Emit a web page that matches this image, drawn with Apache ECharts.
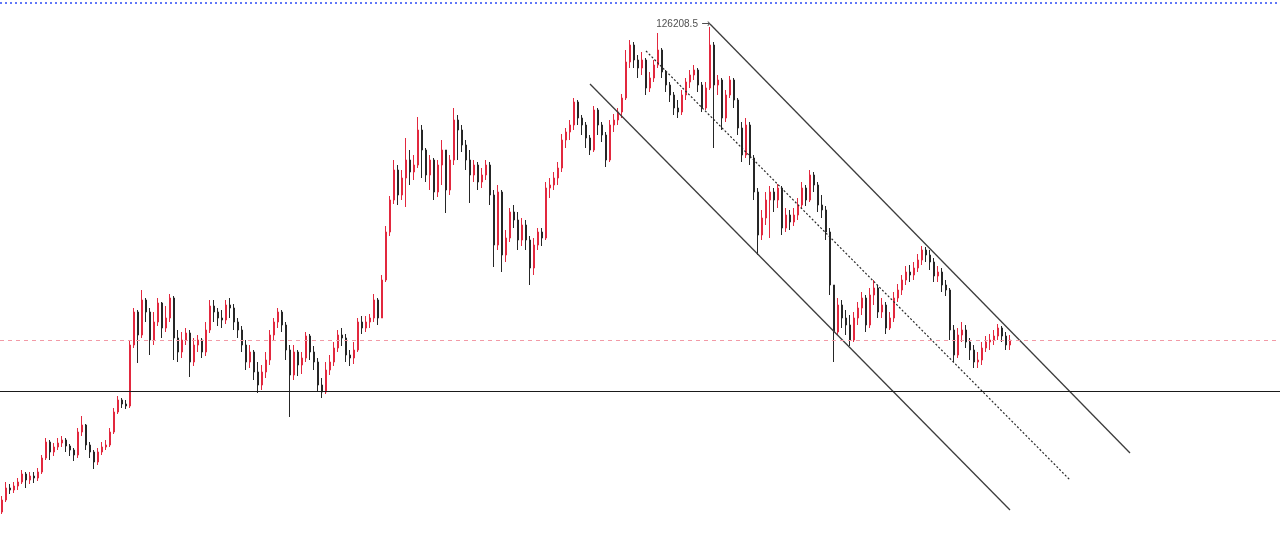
<!DOCTYPE html>
<html>
<head>
<meta charset="utf-8">
<script src="https://cdn.jsdelivr.net/npm/echarts@6/dist/echarts.min.js"></script>
<style>
html,body{margin:0;padding:0;background:#fff;}
#chart{width:1280px;height:542px;}
</style>
</head>
<body>
<div id="chart"></div>
<script>
// ---- data ----
const firstOpen = 29200;
const closes = [
31600,34000,33600,34400,35200,36800,35600,36400,36000,37200,
40000,43200,41200,42200,43000,43600,42400,41600,40600,45200,
46600,42600,41200,39200,41200,42200,42600,45200,49200,51600,
50800,50400,62600,69200,64600,71600,69200,63600,67200,71000,
66000,68000,72000,64000,61200,63600,65000,59200,62600,63600,
61200,65600,70400,69200,68000,67600,70600,70000,67200,65600,
62600,59200,61200,57200,54600,57200,59600,64600,67200,69200,
66600,61600,56600,61200,58600,60000,64400,61200,59200,54600,
53200,57600,59200,62000,64600,64000,60600,60000,61600,67200,
66000,67200,68000,71600,68000,75600,85200,91600,97600,92600,
96000,99600,97200,98600,105600,101600,96600,99600,93200,98600,
101600,93600,99600,107600,105600,102600,99600,96600,98600,95200,
96600,98600,92600,82600,93200,80600,84000,89200,87600,83600,
86600,83600,78000,82600,85200,84000,94000,94600,96000,98000,
103600,105200,106600,111200,108000,106600,104000,101600,109600,106600,
104600,99600,106600,107600,109200,112000,119200,122600,119600,118000,
119600,114000,116000,118600,121600,117200,114600,112600,110000,109200,
112600,115200,116600,117600,114600,110000,114000,122600,114600,115600,
108000,112600,115600,111600,106000,100600,106600,100000,93200,84600,
88000,91600,93200,91600,94000,86000,88600,87200,88600,90600,
94000,91600,96600,94600,90600,89600,85200,74600,65200,70600,
68000,66600,63600,68000,70000,72000,66600,72600,74000,69200,
70600,66000,68000,72000,73600,75600,77200,76600,78000,79600,
81600,80600,79200,76400,77200,74600,73600,65600,60600,64600,
65600,63200,61600,59200,59600,62000,63200,63600,64400,66000,
64400,62600,63600
];
const highs = [
32400,35200,34800,35200,36000,37600,37200,37200,37200,38000,
40600,44000,43600,43000,44000,44400,44000,42800,42000,46000,
48400,46800,43200,41600,42000,43200,43600,46000,50000,52400,
52000,51600,63600,70000,69600,73600,72000,70000,69200,72000,
71200,70400,72800,72400,65600,65200,66000,65600,64000,64600,
64000,67200,71600,71600,70000,69600,71600,72000,70800,68000,
66400,63600,62600,61600,59200,58600,61200,65600,68000,70000,
69600,67200,62600,62600,61600,61200,65200,64800,62400,60000,
56000,59200,60600,63200,65600,66000,64800,61600,63200,68000,
68400,68400,68800,72800,72000,76600,86400,92400,99600,98600,
97600,104000,101600,100600,108200,106600,102000,100600,100000,99600,
103600,101600,100600,110000,108600,106600,103600,101600,99600,99200,
98000,99600,99200,93600,94600,93600,85600,90000,90600,89200,
88000,87600,84400,84000,86000,86000,95200,96000,97200,99200,
104800,106000,107600,112000,111600,108600,107200,104600,110400,110000,
107200,105200,107600,108800,110000,112800,121600,123600,123200,120600,
121200,120000,117200,119600,125000,122000,117600,115200,113200,111600,
113600,116000,117600,118600,118000,115200,115200,126208.5,123200,116600,
116000,113600,116400,116000,112000,107200,108000,107200,100600,94000,
89600,93200,94400,94000,94800,94400,90000,89600,90000,92000,
95200,94600,97600,97200,95200,92600,90400,86000,73600,72000,
71600,69600,68600,69200,71200,73200,72600,74000,75600,74600,
72000,71200,69200,73200,74800,76600,78400,78600,79200,80800,
82400,82200,81600,80000,78400,78000,75600,74000,66600,66000,
67200,66600,64000,62600,61200,63200,64400,64800,65600,66800,
66400,65200,64600
];
const lows = [
28800,31200,32800,33000,33600,34800,34000,34800,35000,35400,
36800,39600,39600,40400,41600,42200,41200,40400,39400,40000,
44400,41600,40000,37800,38600,40600,41600,42200,44800,48800,
50000,49800,50000,62000,59000,64000,67200,60600,62600,66400,
64000,65200,67200,59600,59200,60000,62600,56200,58400,61200,
60000,60400,65000,67200,66400,66000,66800,68000,65600,64000,
61200,57600,58000,55600,53000,53600,56000,58600,63600,66000,
65200,59600,48200,55600,56400,56800,59200,59600,57600,53200,
52000,52800,56600,58400,61200,62400,59200,58400,58800,61200,
64800,65200,66000,67200,66600,68000,75200,84400,90800,90600,
91600,90200,94600,95600,98000,96000,95200,93600,91600,92200,
94600,89000,92600,98600,99600,101200,97600,91000,95200,93600,
94000,95600,90600,78200,81600,77200,79200,83200,86000,81600,
82400,81600,74600,76600,81600,82400,83600,92000,93600,94600,
97200,102000,103600,105600,106600,104600,102000,100600,101200,104600,
103200,98200,99200,105200,106600,108000,111600,118000,118000,116000,
116600,112600,113200,115200,118000,116000,113200,111200,108600,108000,
108600,111600,114000,115600,113200,109200,109600,113600,102000,112600,
105600,107200,112000,110000,104600,99200,100000,98600,91600,80600,
83600,86600,84000,89200,90000,84600,85200,85600,86400,87600,
90000,90400,91200,93200,89200,88000,83600,72600,59200,64600,
66000,64600,62400,63200,66600,68600,65200,66000,70600,68000,
68000,64800,65600,67200,71200,72600,74600,75200,75600,77200,
78600,79200,77600,75200,75200,73200,72400,63600,59200,60000,
63200,62000,59600,58000,58000,58600,61200,61600,62600,63600,
63200,61600,61600
];
// reference levels
const peakIndex = 177;
const peakValue = 126208.5;
const peakText = '126208.5';
const supportLevel = 53400;     // solid black horizontal
const lastPriceLevel = 63600;   // pink dashed horizontal
const topAlertLevel = 131000;   // blue dotted horizontal
// channel lines: [categoryIndex, price]
const channelUpper = [[177, 126808], [282, 41000]];
const channelMiddle = [[161, 121400], [267, 35600]];
const channelLower = [[147, 114800], [252, 29600]];
const totalSlots = 320;

// ---- build ----
const categories = [];
for (let i = 0; i < totalSlots; i++) categories.push(String(i));
const candleData = closes.map((c, i) => {
  const o = i === 0 ? firstOpen : closes[i - 1];
  const h = Math.max(highs[i], o, c);
  const l = Math.min(lows[i], o, c);
  return [o, c, l, h];
});

const UP = '#e2283e';
const DOWN = '#262626';

const chart = echarts.init(document.getElementById('chart'), null, {renderer: 'canvas'});
const lineStyleBase = {color: '#3c3c3c', width: 1.3};
chart.setOption({
  animation: false,
  backgroundColor: '#ffffff',
  grid: {left: 0, right: 0, top: 0, bottom: 0},
  xAxis: {type: 'category', data: categories, show: false, boundaryGap: true},
  yAxis: {type: 'value', min: 23200, max: 131600, show: false, splitLine: {show: false}},
  series: [
    {
      type: 'candlestick',
      data: candleData,
      barWidth: 2,
      itemStyle: {color: UP, color0: DOWN, borderColor: UP, borderColor0: DOWN, borderWidth: 1},
      silent: true,
      z: 2,
      markLine: {
        silent: true,
        symbol: ['none', 'none'],
        label: {show: false},
        data: [
          {yAxis: supportLevel, lineStyle: {color: '#1a1a1a', width: 1.2, type: 'solid'}},
          {yAxis: lastPriceLevel, lineStyle: {color: '#f29aa6', width: 1, type: [4, 4]}},
          {yAxis: topAlertLevel, lineStyle: {color: '#2f4bf5', width: 1.5, type: [2, 3]}}
        ]
      }
    },
    {type: 'line', data: channelUpper, symbol: 'none', silent: true, z: 4, lineStyle: lineStyleBase},
    {type: 'line', data: channelLower, symbol: 'none', silent: true, z: 4, lineStyle: lineStyleBase},
    {type: 'line', data: channelMiddle, symbol: 'none', silent: true, z: 4,
     lineStyle: {color: '#2a2a2a', width: 1.2, type: [2, 2]}},
    {
      type: 'scatter',
      data: [[peakIndex, peakValue]],
      symbolSize: 1,
      itemStyle: {color: 'rgba(0,0,0,0)'},
      silent: true,
      z: 5,
      label: {
        show: true,
        position: 'left',
        distance: 0,
        offset: [1, -3],
        formatter: '{t|' + peakText + '} {a|→}',
        rich: {
          t: {fontSize: 10, fontFamily: 'Liberation Sans, Arial, sans-serif', color: '#222'},
          a: {fontSize: 11, fontFamily: 'DejaVu Sans', color: '#222'}
        }
      }
    }
  ]
});
</script>
</body>
</html>
